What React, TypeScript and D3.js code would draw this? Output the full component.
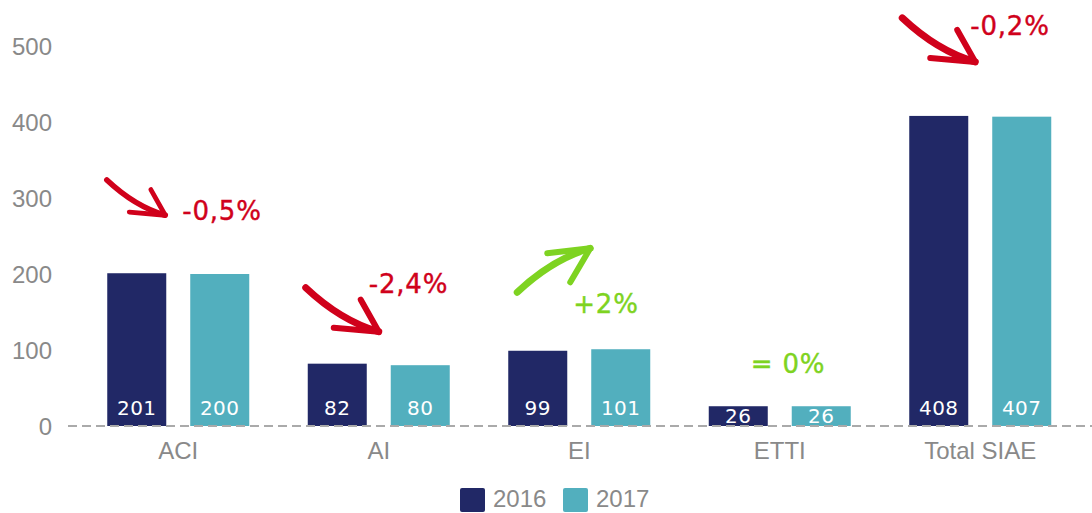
import React from 'react';
import * as d3 from 'd3';

// chart values
const categories = ['ACI', 'AI', 'EI', 'ETTI', 'Total SIAE'];
const series = ['2016', '2017'];
const values2016 = [201, 82, 99, 26, 408];
const values2017 = [200, 80, 101, 26, 407];
const yTicks = [0, 100, 200, 300, 400, 500];
const changeLabels = ['-0,5%', '-2,4%', '+2%', '= 0%', '-0,2%'];
const changeTrend = ['down', 'down', 'up', 'flat', 'down'];

// annotation placement (px offsets from band centre / top of taller bar)
const arrowLayout = [
  { dx: -13, dy: -58, k: 0.8, tx: 4, ty: -53 },
  { dx: 0, dy: -32, k: 1, tx: -10, ty: -71 },
  { dx: 11, dy: -101, k: 1, tx: -6, ty: -36 },
  { dx: 0, dy: 0, k: 1, tx: -29, ty: -33 },
  { dx: -5, dy: -54, k: 1, tx: -10, ty: -81 },
];

const W = 1092;
const H = 513;
const NAVY = '#212866';
const TEAL = '#52afbe';
const RED = '#d0011b';
const GREEN = '#7ed321';
const GREY = '#898989';
const axisFont = '"Liberation Sans", Arial, sans-serif';
const labelFont = '"DejaVu Sans", sans-serif';

const colors = d3.scaleOrdinal<string, string>().domain(series).range([NAVY, TEAL]);

// hand-drawn style arrow; offsets are in screen px for an up arrow, mirrored for down
function arrowPaths(x: number, y: number, k: number, up: boolean) {
  const s = up ? 1 : -1;
  const p = (dx: number, dy: number) => [x + dx * k, y + dy * k * s] as [number, number];
  const shaft = d3.path();
  const a = p(-73, 44);
  const c = p(-38, 11);
  shaft.moveTo(a[0], a[1]);
  shaft.quadraticCurveTo(c[0], c[1], x, y);
  const b1 = up ? p(-43, 5) : p(-18, 32);
  const b2 = up ? p(-20, 34) : p(-45, 4);
  const head = d3.path();
  head.moveTo(b1[0], b1[1]);
  head.lineTo(x, y);
  head.lineTo(b2[0], b2[1]);
  return { shaft: shaft.toString(), head: head.toString() };
}

export default function App() {
  const x = d3.scaleBand<string>().domain(categories).range([78, 1080.5]).paddingInner(0).paddingOuter(0);
  const inner = d3.scaleBand<string>().domain(series).range([-71, 71]).paddingInner(0.289).paddingOuter(0);
  const y = d3.scaleLinear().domain([0, 500]).range([426, 46]);

  const rows = categories.map((c, i) => ({ cat: c, vals: [values2016[i], values2017[i]] }));

  return (
    <svg width={W} height={H} style={{ position: 'absolute', left: 0, top: 0, background: '#fff' }}>
      {/* y ticks */}
      {yTicks.map((t) => (
        <text key={t} x={52} y={y(t)} dy="0.36em" textAnchor="end" fontFamily={axisFont} fontSize={24} fill={GREY}>
          {t}
        </text>
      ))}

      {/* bars */}
      {rows.map((r) => {
        const cx = (x(r.cat) as number) + x.bandwidth() / 2;
        return (
          <g key={r.cat} transform={`translate(${cx},0)`}>
            {series.map((s, j) => {
              const ly = Math.max(y(0) - 18.5, (y(r.vals[j]) + y(0)) / 2);
              return (
                <g key={s}>
                  <rect
                    x={inner(s) as number}
                    y={y(r.vals[j])}
                    width={inner.bandwidth()}
                    height={y(0) - y(r.vals[j])}
                    fill={colors(s)}
                  />
                  <text
                    x={(inner(s) as number) + inner.bandwidth() / 2}
                    y={ly}
                    dy="0.36em"
                    textAnchor="middle"
                    fontFamily={labelFont}
                    fontSize={20}
                    letterSpacing={0.5}
                    fill="#fff"
                  >
                    {r.vals[j]}
                  </text>
                </g>
              );
            })}
            <text y={459} textAnchor="middle" fontFamily={axisFont} fontSize={24} fill={GREY}>
              {r.cat}
            </text>
          </g>
        );
      })}

      {/* zero line */}
      <line x1={68} x2={W} y1={y(0)} y2={y(0)} stroke="#aaa" strokeWidth={2} strokeDasharray="9 5" />

      {/* change annotations */}
      {rows.map((r, i) => {
        const cx = (x(r.cat) as number) + x.bandwidth() / 2;
        const top = y(d3.max(r.vals) as number);
        const L = arrowLayout[i];
        const trend = changeTrend[i];
        const col = trend === 'down' ? RED : GREEN;
        const ap = trend === 'flat' ? null : arrowPaths(cx + L.dx, top + L.dy, L.k, trend === 'up');
        return (
          <g key={'ann' + i}>
            {ap && (
              <g fill="none" stroke={col} strokeLinecap="round" strokeLinejoin="round">
                <path d={ap.shaft} strokeWidth={7 * L.k} />
                <path d={ap.head} strokeWidth={6 * L.k} />
              </g>
            )}
            <text
              x={cx + L.tx}
              y={top + L.ty}
              fontFamily={labelFont}
              fontSize={26}
              letterSpacing={0.8}
              fill={col}
              stroke={col}
              strokeWidth={0.4}
            >
              {changeLabels[i]}
            </text>
          </g>
        );
      })}

      {/* legend */}
      {series.map((s, j) => (
        <g key={s} transform={`translate(${460 + j * 103},488)`}>
          <rect width={25} height={24} rx={2} fill={colors(s)} />
          <text x={33} y={19} fontFamily={axisFont} fontSize={24} fill={GREY}>
            {s}
          </text>
        </g>
      ))}
    </svg>
  );
}
